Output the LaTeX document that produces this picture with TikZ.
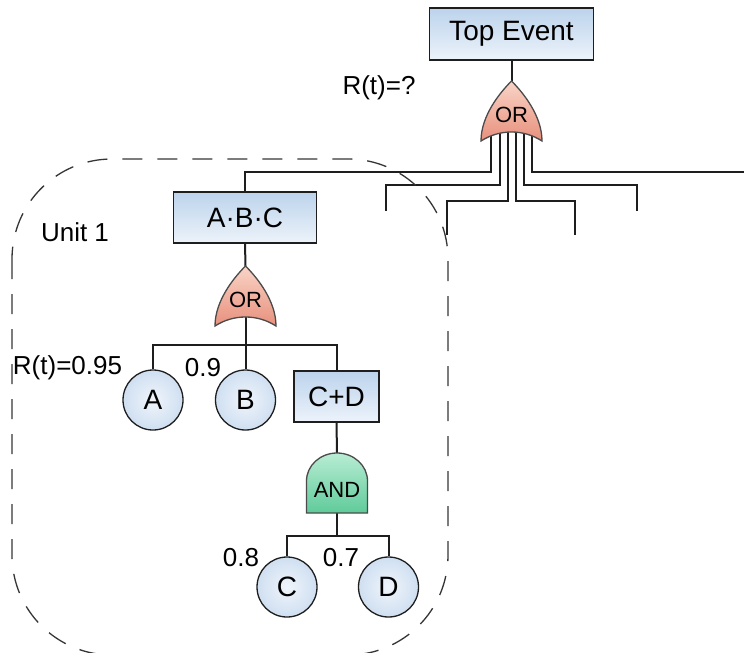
\documentclass[tikz,border=0pt]{standalone}
\usepackage{fontspec}
\setmainfont{Liberation Sans}
\pgfdeclarelayer{bg}
\pgfsetlayers{bg,main}

\definecolor{ink}{HTML}{1E1E1E}
\definecolor{boxtop}{HTML}{BCD3EC}
\definecolor{boxbot}{HTML}{EDF3FA}
\definecolor{evin}{HTML}{F0F5FB}
\definecolor{evout}{HTML}{CFDFF1}
\definecolor{ortop}{HTML}{F9D4C7}
\definecolor{orbot}{HTML}{E8907C}
\definecolor{andtop}{HTML}{B8EDD4}
\definecolor{andbot}{HTML}{5FCB9A}

\tikzset{
  wire/.style={draw=ink, line width=2pt},
  eventbox/.style={rectangle, draw=ink, line width=1.5pt, shade, top color=boxtop,
    bottom color=boxbot, inner sep=0pt, font=\fontsize{28}{30}\selectfont},
  basic/.style={circle, draw=ink, line width=1.3pt, shade, inner color=evin,
    outer color=evout, minimum size=60pt, inner sep=0pt, font=\fontsize{28}{30}\selectfont},
  lbl/.style={inner sep=0pt, font=\fontsize{26}{28}\selectfont},
  gatetext/.style={inner sep=0pt, font=\fontsize{22}{24}\selectfont},
  gateline/.style={draw=ink!80, line width=1.3pt},
  unitbox/.style={draw=ink!90, line width=1.3pt, dash pattern=on 20pt off 15pt,
    rounded corners=100pt},
  orgate/.pic={
    \path[gateline, shade, top color=ortop, bottom color=orbot]
      (-30.5,60) .. controls (-30.5,35) and (-12,12) .. (0,0)
      .. controls (12,12) and (30.5,35) .. (30.5,60)
      .. controls (12,48) and (-12,48) .. (-30.5,60) -- cycle;
    \coordinate (-top) at (0,0);
    \coordinate (-bot) at (0,50);
    \node[gatetext] (-lbl) at (0,34) {OR};
  },
  andgate/.pic={
    \path[gateline, shade, top color=andtop, bottom color=andbot]
      (-30.5,60) -- (-30.5,28) .. controls (-30.5,12.5) and (-16.8,0) .. (0,0)
      .. controls (16.8,0) and (30.5,12.5) .. (30.5,28) -- (30.5,60) -- cycle;
    \coordinate (-top) at (0,0);
    \coordinate (-bot) at (0,60);
    \node[gatetext] (-lbl) at (0,37) {AND};
  },
}

\begin{document}
\begin{tikzpicture}[x=1pt, y=-1pt]
\useasboundingbox (0,0) rectangle (744,653);

% unit boundary
\draw[unitbox] (12,159) rectangle (448,655);

% events
\node[eventbox, minimum width=164pt, minimum height=52pt] (top) at (511.5,34) {Top Event};
\node[eventbox, minimum width=143pt, minimum height=51pt] (abc) at (245,217.5) {A·B·C};
\node[eventbox, minimum width=85pt, minimum height=51pt] (cd) at (336.5,396.5) {C+D};

\node[basic] (A) at (153,400) {A};
\node[basic] (B) at (245.5,400) {B};
\node[basic] (C) at (287,587) {C};
\node[basic] (D) at (388.5,587) {D};

% gates
\pic (g1) at (511.5,81) {orgate};
\pic (g2) at (245.5,266) {orgate};
\pic (ag) at (337,453) {andgate};

% labels
\node[lbl] (rq) at (379,88) {R(t)=?};
\node[lbl] (unit) at (75,232) {Unit 1};
\node[lbl] (rA) at (67.5,368) {R(t)=0.95};
\node[lbl] (rB) at (203,368) {0.9};
\node[lbl] (rC) at (241,558) {0.8};
\node[lbl] (rD) at (341,558) {0.7};

% bus levels and open ends
\coordinate (lv1) at (0,172);
\coordinate (lv2) at (0,185);
\coordinate (lv3) at (0,201);
\coordinate (lv4) at (0,345);
\coordinate (lv5) at (0,536);
\coordinate (e1) at (386,211);
\coordinate (e2) at (447,235);
\coordinate (e3) at (575,235);
\coordinate (e4) at (637,211);
\coordinate (e5) at (744,172);

\begin{pgfonlayer}{bg}
  \draw[wire] (top.south) -- (g1-top);
  \draw[wire] ([xshift=-20.5pt]g1-bot) |- (abc.north |- lv1) -- (abc.north);
  \draw[wire] ([xshift=-12pt]g1-bot) |- (e1 |- lv2) -- (e1);
  \draw[wire] ([xshift=-4pt]g1-bot) |- (e2 |- lv3) -- (e2);
  \draw[wire] ([xshift=4pt]g1-bot) |- (e3 |- lv3) -- (e3);
  \draw[wire] ([xshift=12pt]g1-bot) |- (e4 |- lv2) -- (e4);
  \draw[wire] ([xshift=20.5pt]g1-bot) |- (e5);

  \draw[wire] (abc.south) -- (g2-top);
  \draw[wire] (g2-bot) -- (B.north);
  \draw[wire] (A.north) |- (g2-bot |- lv4) -| (cd.north);

  \draw[wire] (cd.south) -- (ag-top);
  \draw[wire] (ag-bot) -- (ag-bot |- lv5);
  \draw[wire] (C.north) |- (ag-bot |- lv5) -| (D.north);
\end{pgfonlayer}
\end{tikzpicture}
\end{document}
